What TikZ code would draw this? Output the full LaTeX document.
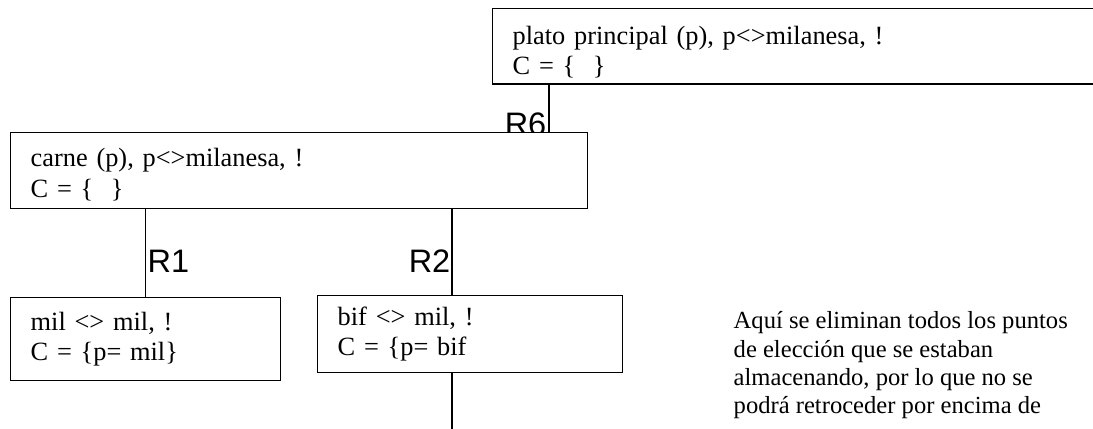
\documentclass[tikz,border=0pt]{standalone}
\usepackage{fontspec}
\setmainfont{Liberation Serif}
\newfontfamily\arialfont{Liberation Sans}
\usetikzlibrary{positioning}

\begin{document}
\begin{tikzpicture}[x=0.02cm, y=-0.02cm, line width=0.8pt,
		box/.style = {draw, fill=white, rectangle, anchor=north west, inner xsep=0.4cm, align=left, font=\fontsize{15}{17.25}\selectfont},
		lbl/.style = {inner sep=0pt, font=\arialfont\fontsize{18.5}{18.5}\selectfont},
		note/.style = {inner sep=0pt, anchor=north west, align=left, font=\fontsize{14}{16.1}\selectfont}]
			\clip (0,0) rectangle (1093,429);
			% columns of the connectors
			\coordinate (r6) at (549,0);
			\coordinate (r2) at (452,0);
			\coordinate (cut) at (452,429);
			\node[box, minimum width=12.4cm, minimum height=1.5cm, text width=11.6cm] (plato) at (492,8) {\rule{0pt}{17pt}plato principal (p), p<>milanesa, !\\C = \{~~\}};
			\node[lbl, anchor=base east] (l6) at (547,136) {R6};
			\node[box, minimum width=11.54cm, minimum height=1.52cm, text width=10.74cm] (carne) at (10,132) {\rule{0pt}{15pt}carne (p), p<>milanesa, !\\C = \{~~\}};
			\node[box, minimum width=5.4cm, minimum height=1.66cm, text width=4.6cm] (mil) at (10,297) {mil <> mil, !\\C = \{p= mil\}};
			\node[box, minimum width=6.1cm, minimum height=1.54cm, text width=5.3cm] (bif) at (317,295) {bif <> mil, !\\C = \{p= bif};
			\node[lbl, anchor=base west] (l1) at (147,273) {R1};
			\node[lbl, anchor=base east] (l2) at (451,273) {R2};
			\node[note] (nota) at (733,311) {Aquí se eliminan todos los puntos\\de elección que se estaban\\almacenando, por lo que no se\\podrá retroceder por encima de};
			\draw (plato.south -| r6) -- (carne.north -| r6);
			\draw (carne.south -| mil.north) -- (mil.north);
			\draw (carne.south -| r2) -- (bif.north -| r2);
			\draw (bif.south -| cut) -- (cut);
		\end{tikzpicture}
\end{document}
